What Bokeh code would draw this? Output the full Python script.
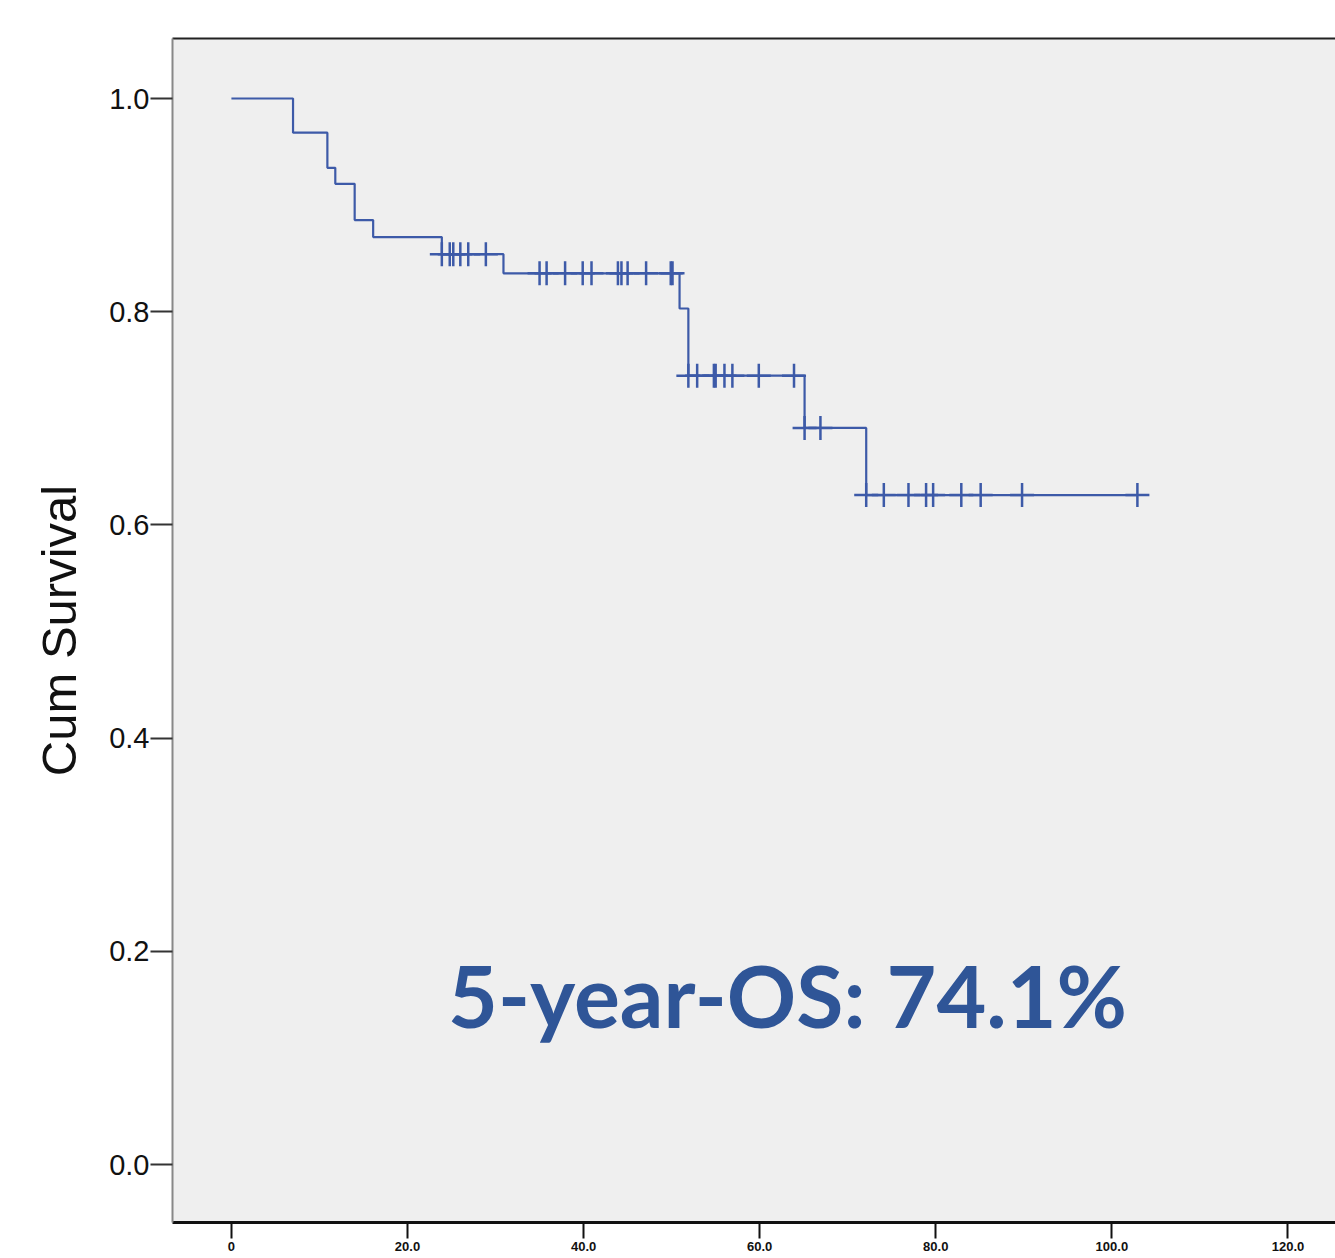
from bokeh.plotting import figure
from bokeh.models import Range1d, FixedTicker, LinearAxis, Label
from bokeh.embed import file_html
from bokeh.resources import INLINE

# Kaplan-Meier data (months, cumulative survival)
event_times = [7.0, 10.9, 11.8, 14.0, 16.1, 23.9, 30.9, 50.9, 51.9, 65.1, 72.1]
event_surv = [0.968, 0.935, 0.920, 0.886, 0.870, 0.854, 0.836, 0.803, 0.740, 0.691, 0.628]
censor_times = [23.9, 24.8, 25.2, 26.0, 26.9, 28.9,
                35.0, 35.8, 37.9, 39.9, 40.9, 43.9, 44.3, 45.0, 47.1, 49.9, 50.1,
                51.9, 52.9, 54.8, 55.0, 56.0, 56.9, 59.9, 63.9,
                65.1, 66.9,
                72.1, 74.1, 76.9, 78.9, 79.7, 82.9, 85.1, 89.8, 102.9]
x_ticks = [0, 20, 40, 60, 80, 100, 120]
x_tick_labels = ["0", "20.0", "40.0", "60.0", "80.0", "100.0", "120.0"]
y_ticks = [0.0, 0.2, 0.4, 0.6, 0.8, 1.0]
y_tick_labels = ["0.0", "0.2", "0.4", "0.6", "0.8", "1.0"]
annotation_text = "5-year-OS: 74.1%"


def surv_at(t):
    s = 1.0
    for et, es in zip(event_times, event_surv):
        if et <= t:
            s = es
    return s


line_x = [0.0] + event_times + [max(censor_times)]
line_y = [1.0] + event_surv + [event_surv[-1]]
censor_y = [surv_at(t) for t in censor_times]

BLUE = "#3d5aa8"

p = figure(width=1335, height=1258, output_backend="svg", toolbar_location=None,
           x_range=Range1d(-6.69, 125.4), y_range=Range1d(-0.0544, 1.0563),
           x_axis_location=None, y_axis_location=None,
           min_border_left=172, min_border_top=38, min_border_right=0, min_border_bottom=36)
p.background_fill_color = "#efefef"
p.border_fill_color = "white"
p.outline_line_color = None
p.grid.visible = False

# top border line
top_axis = LinearAxis(ticker=FixedTicker(ticks=[]), major_label_text_font_size="0px",
                      major_tick_out=0, major_tick_in=0, minor_tick_line_color=None,
                      axis_line_color="#222222", axis_line_width=2, major_label_standoff=0)
p.add_layout(top_axis, "above")

xa = LinearAxis(ticker=FixedTicker(ticks=x_ticks))
xa.major_label_overrides = {t: l for t, l in zip(x_ticks, x_tick_labels)}
xa.axis_line_color = "#111111"
xa.axis_line_width = 3
xa.major_tick_line_color = "#111111"
xa.major_tick_line_width = 2
xa.major_tick_out = 16
xa.major_tick_in = 0
xa.minor_tick_line_color = None
xa.major_label_text_font = "Liberation Sans"
xa.major_label_text_font_size = "13px"
xa.major_label_text_font_style = "bold"
xa.major_label_text_color = "#111111"
xa.major_label_standoff = 3
p.add_layout(xa, "below")

ya = LinearAxis(ticker=FixedTicker(ticks=y_ticks))
ya.major_label_overrides = {t: l for t, l in zip(y_ticks, y_tick_labels)}
ya.axis_line_color = "#888888"
ya.axis_line_width = 2
ya.major_tick_line_color = "#333333"
ya.major_tick_line_width = 2
ya.major_tick_out = 22
ya.major_tick_in = 0
ya.minor_tick_line_color = None
ya.major_label_text_font = "Liberation Sans"
ya.major_label_text_font_size = "29px"
ya.major_label_text_color = "#111111"
ya.major_label_standoff = 1
ya.axis_label = "Cum Survival"
ya.axis_label_text_font = "Liberation Sans"
ya.axis_label_text_font_size = "49px"
ya.axis_label_text_font_style = "normal"
ya.axis_label_text_color = "#111111"
ya.axis_label_standoff = 20
p.add_layout(ya, "left")

p.step(line_x, line_y, mode="after", line_color=BLUE, line_width=2.2)
p.scatter(censor_times, censor_y, marker="cross", size=24, line_color=BLUE, line_width=2.5)

p.add_layout(Label(x=24.6, y=0.111, text=annotation_text, text_font="Lato",
                   text_font_style="bold", text_font_size="86px", text_color="#2f5597"))

open("out.html", "w").write(file_html(p, INLINE))
